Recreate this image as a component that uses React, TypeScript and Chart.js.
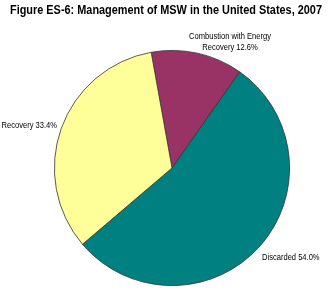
import React, { useEffect, useRef } from "react";
import { Chart, registerables } from "chart.js";

Chart.register(...registerables);

const categories = ["Combustion with Energy Recovery", "Discarded", "Recovery"];
const values = [12.6, 54.0, 33.4];
const colors = ["#993366", "#008080", "#FFFF99"];
const titleText = "Figure ES-6: Management of MSW in the United States, 2007";
const labelLines = [
  ["Combustion with Energy", "Recovery 12.6%"],
  ["Discarded 54.0%"],
  ["Recovery 33.4%"],
];

function drawScaled(ctx: any, text: string, x: number, y: number, sx: number, align: string) {
  ctx.save();
  ctx.translate(x, y);
  ctx.scale(sx, 1);
  ctx.textAlign = align;
  ctx.fillText(text, 0, 0);
  ctx.restore();
}

const textPlugin = {
  id: "textPlugin",
  afterDraw(chart: any) {
    const ctx = chart.ctx;
    ctx.save();
    ctx.fillStyle = "#000";
    ctx.textBaseline = "middle";
    ctx.font = "bold 12px 'Liberation Sans', Arial, sans-serif";
    const tw = ctx.measureText(titleText).width;
    drawScaled(ctx, titleText, 166, 11, 312 / tw, "center");

    ctx.font = "9px 'Liberation Sans', Arial, sans-serif";
    const sx = 0.84;
    drawScaled(ctx, labelLines[0][0], 230, 37, sx, "center");
    drawScaled(ctx, labelLines[0][1], 230, 48, sx, "center");
    drawScaled(ctx, labelLines[1][0], 262, 258, sx, "left");
    drawScaled(ctx, labelLines[2][0], 57, 126, sx, "right");
    ctx.restore();
  },
};

export default function App() {
  const ref = useRef<HTMLCanvasElement>(null);
  useEffect(() => {
    const chart = new Chart(ref.current!, {
      type: "pie",
      data: {
        labels: categories,
        datasets: [
          {
            data: values,
            backgroundColor: colors,
            borderColor: "#333333",
            borderWidth: 0.8,
          },
        ],
      },
      options: {
        responsive: false,
        animation: false,
        rotation: -10.2,
        layout: { padding: { left: 54, right: 38, top: 50, bottom: 11 } },
        plugins: {
          legend: { display: false },
          tooltip: { enabled: false },
          title: { display: false },
        },
      },
      plugins: [textPlugin],
    });
    return () => chart.destroy();
  }, []);
  return (
    <div style={{ position: "absolute", left: 0, top: 0, width: 328, height: 297, background: "#fff" }}>
      <canvas ref={ref} width={328} height={297} />
    </div>
  );
}
